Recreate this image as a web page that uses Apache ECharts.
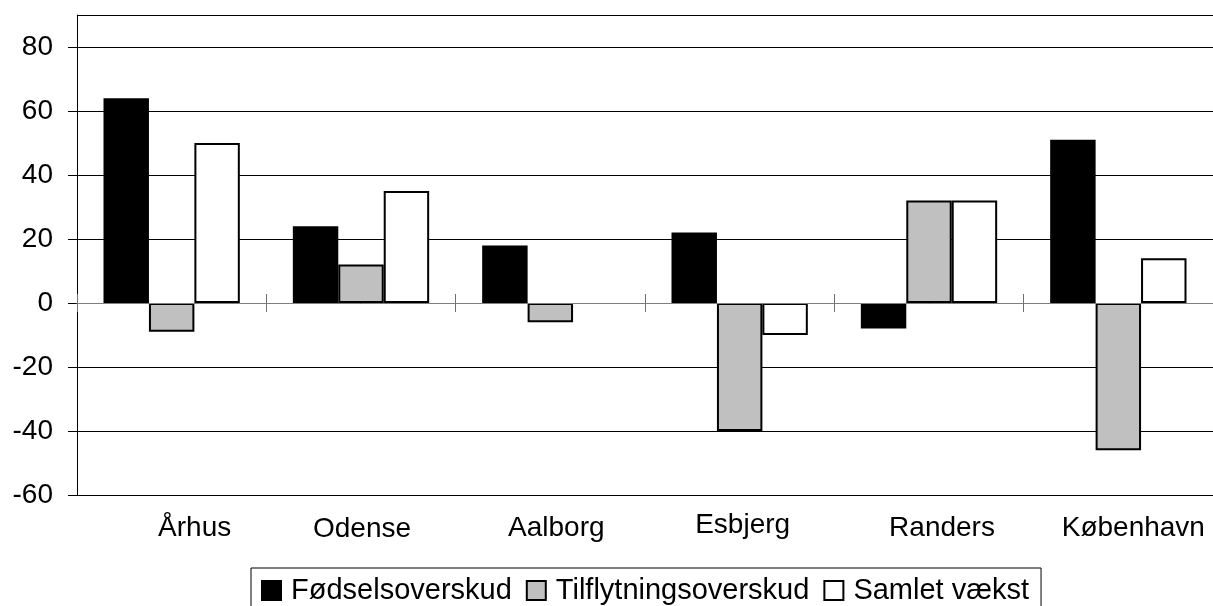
<!DOCTYPE html>
<html>
<head>
<meta charset="utf-8">
<script src="https://cdn.jsdelivr.net/npm/echarts@6/dist/echarts.min.js"></script>
<style>
html,body{margin:0;padding:0;background:#fff;}
#chart{width:1213px;height:606px;}
</style>
</head>
<body>
<div id="chart"></div>
<script>
// ---- data ----
const categories = ['Århus', 'Odense', 'Aalborg', 'Esbjerg', 'Randers', 'København'];
const seriesNames = ['Fødselsoverskud', 'Tilflytningsoverskud', 'Samlet vækst'];
const foedsel = [64, 24, 18, 22, -8, 51];
const tilflytning = [-9, 12, -6, -40, 32, -46];
const samlet = [50, 35, null, -10, 32, 14];
const yTicks = [-60, -40, -20, 0, 20, 40, 60, 80];

// ---- style (label nudges: [right px, down px]) ----
const labelNudge = [[23, 3], [1, 4], [6, 3], [3, 0], [13, 3], [15, 3]];
const FONT = "'Liberation Sans', Arial, sans-serif";
const GRID_TOP = 15, GRID_BOTTOM = 111, Y_MIN = -60, Y_MAX = 90;
// distance from bottom of plot to the zero line, used to raise the upper tick axis
const zeroOffset = -((606 - GRID_BOTTOM - GRID_TOP) * (0 - Y_MIN) / (Y_MAX - Y_MIN));

const labelData = categories.map((c, i) => ({
  value: c,
  textStyle: { padding: [labelNudge[i][1], 0, 0, Math.max(0, labelNudge[i][0] * 2)] }
}));

const colors = ['#000000', '#C0C0C0', '#FFFFFF'];
const values = [foedsel, tilflytning, samlet];

const chart = echarts.init(document.getElementById('chart'), null, { renderer: 'canvas' });
chart.setOption({
  animation: false,
  backgroundColor: '#fff',
  textStyle: { fontFamily: FONT },
  grid: { left: 77, right: 0, top: GRID_TOP, bottom: GRID_BOTTOM, containLabel: false },
  legend: {
    left: 251, top: 568,
    orient: 'horizontal',
    padding: [8, 12, 8, 10],
    borderColor: '#000', borderWidth: 1,
    itemWidth: 19, itemHeight: 19, itemGap: 14,
    icon: 'rect',
    textStyle: { fontSize: 29, color: '#000', fontFamily: FONT, padding: [0, 0, 0, 5] },
    data: seriesNames
  },
  xAxis: [
    {
      type: 'category', data: categories, position: 'bottom',
      axisLine: { show: true, onZero: true, lineStyle: { color: '#808080', width: 1 } },
      axisTick: { show: true, length: 9, inside: false, lineStyle: { color: '#707070' } },
      axisLabel: { show: false }, splitLine: { show: false }, z: 5
    },
    {
      type: 'category', data: categories, position: 'bottom',
      offset: zeroOffset,
      axisLine: { show: false, onZero: false },
      axisTick: { show: true, length: 9, inside: true, lineStyle: { color: '#707070' } },
      axisLabel: { show: false }, splitLine: { show: false }, z: 5
    },
    {
      type: 'category', data: labelData, position: 'bottom',
      axisLine: { show: false, onZero: false },
      axisTick: { show: false },
      axisLabel: { show: true, margin: 16, fontSize: 28, color: '#000', fontFamily: FONT, interval: 0 },
      splitLine: { show: false }
    }
  ],
  yAxis: {
    type: 'value', min: Y_MIN, max: Y_MAX, interval: 20,
    axisLine: { show: true, lineStyle: { color: '#000', width: 1 } },
    axisTick: { show: true, length: 9, inside: false, lineStyle: { color: '#000' } },
    axisLabel: { fontSize: 28, color: '#000', fontFamily: FONT, margin: 24, showMaxLabel: false,
      formatter: v => (yTicks.indexOf(v) >= 0 ? String(v) : '') },
    splitLine: { show: true, lineStyle: { color: '#000', width: 1 } }
  },
  series: seriesNames.map((n, i) => ({
    name: n, type: 'bar', xAxisIndex: 0,
    data: values[i],
    barGap: '0%', barCategoryGap: '28%',
    itemStyle: { color: colors[i], borderColor: '#000', borderWidth: 2 }
  }))
});
</script>
</body>
</html>
